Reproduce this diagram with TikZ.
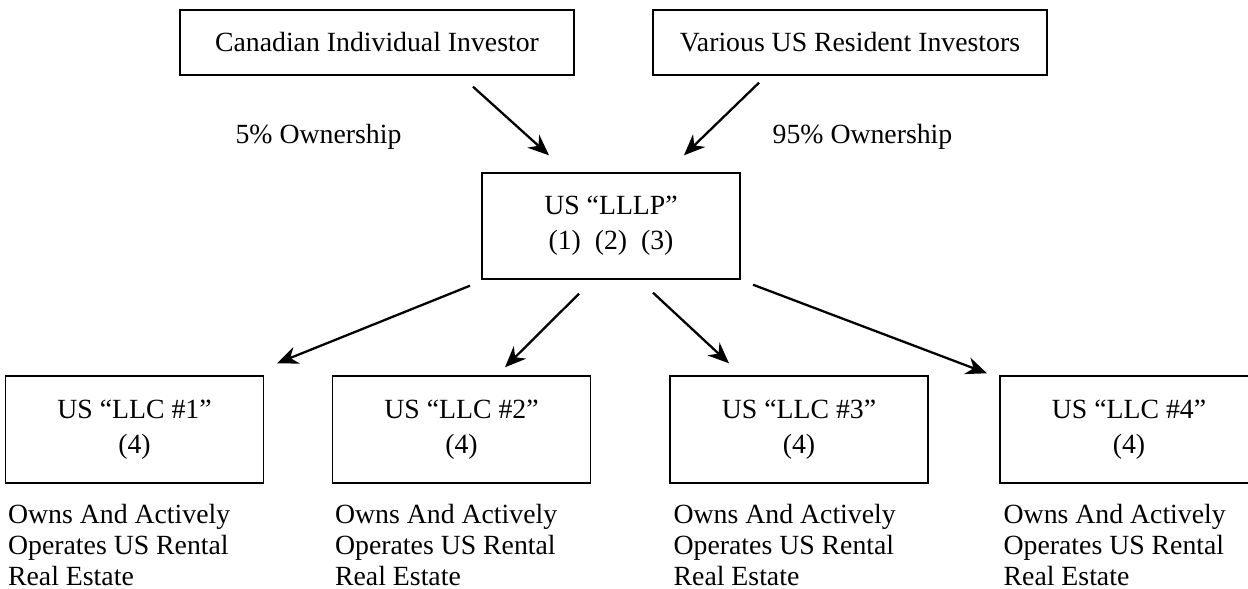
\documentclass[tikz,border=0pt]{standalone}
\usepackage{fontspec}
\setmainfont{Liberation Serif}
\usepackage{tikz}
\usetikzlibrary{arrows.meta, positioning, calc}

\begin{document}
\begin{tikzpicture}[
    font=\fontsize{15.8}{19.8}\selectfont,
    entity/.style={
        rectangle,
        draw=black,
        line width=0.8pt,
        align=center,
        minimum height=1.3cm
    },
    llc/.style={
        entity,
        minimum width=5.16cm,
        minimum height=2.14cm
    },
    note/.style={
        align=left,
        inner sep=0pt,
        font=\fontsize{15.8}{17.6}\selectfont
    },
    arrow/.style={
        -{Stealth[length=12pt,width=10pt]},
        line width=1.3pt,
        color=black
    }
]
\useasboundingbox (0,0) rectangle (24.96,-11.78);

% owners
\node[entity, minimum width=7.88cm] (inv) at (7.54,-0.85) {Canadian Individual Investor};
\node[entity, minimum width=7.88cm] (us) at (17.0,-0.85) {Various US Resident Investors};

\node (pct5) at (6.37,-2.74) {5\% Ownership};
\node (pct95) at (17.25,-2.74) {95\% Ownership};

% partnership
\node[entity, minimum width=5.16cm, minimum height=2.12cm] (lllp) at (12.22,-4.52) {US ``LLLP''\\(1)\ \ (2)\ \ (3)};

% companies
\node[llc] (llc1) at (2.69,-8.59) {US ``LLC \#1''\\(4)};
\node[llc] (llc2) at (9.23,-8.59) {US ``LLC \#2''\\(4)};
\node[llc] (llc3) at (15.98,-8.59) {US ``LLC \#3''\\(4)};
\node[llc] (llc4) at (22.58,-8.59) {US ``LLC \#4''\\(4)};

\node[note, below right=0.41cm and 0.06cm of llc1.south west] (op1) {Owns And Actively\\Operates US Rental\\Real Estate};
\node[note, below right=0.41cm and 0.06cm of llc2.south west] (op2) {Owns And Actively\\Operates US Rental\\Real Estate};
\node[note, below right=0.41cm and 0.08cm of llc3.south west] (op3) {Owns And Actively\\Operates US Rental\\Real Estate};
\node[note, below right=0.41cm and 0.08cm of llc4.south west] (op4) {Owns And Actively\\Operates US Rental\\Real Estate};

\draw[arrow] ($(inv.south)+(1.92,-0.22)$) -- ($(lllp.north)+(-1.24,0.34)$);
\draw[arrow] ($(us.south)+(-1.82,-0.14)$) -- ($(lllp.north)+(1.46,0.34)$);

\draw[arrow] ($(lllp.south)+(-2.82,-0.12)$) -- ($(llc1.north)+(2.85,0.24)$);
\draw[arrow] ($(lllp.south)+(-0.64,-0.28)$) -- ($(llc2.north)+(0.87,0.16)$);
\draw[arrow] ($(lllp.south)+(0.84,-0.26)$) -- ($(llc3.north)+(-1.40,0.24)$);
\draw[arrow] ($(lllp.south)+(2.84,-0.10)$) -- ($(llc4.north)+(-2.84,0.04)$);

\end{tikzpicture}
\end{document}
